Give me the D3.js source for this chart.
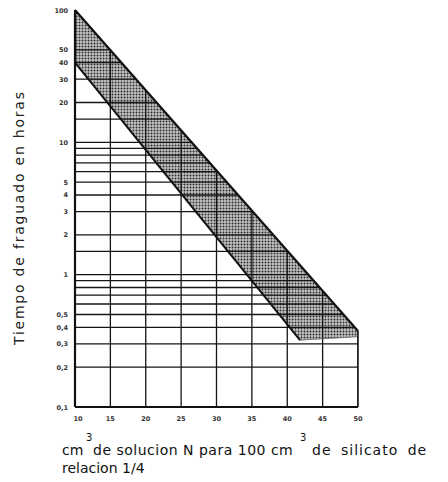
<!DOCTYPE html>
<html><head><meta charset="utf-8">
<script src="https://cdn.jsdelivr.net/npm/d3@7/dist/d3.min.js"></script>
<style>body{margin:0;background:#fff}svg{display:block}</style>
</head><body>
<script>
// ---- data ----
const xTicks = [10,15,20,25,30,35,40,45,50];
const yGrid = [0.1,0.2,0.3,0.4,0.5,0.6,0.7,0.8,0.9,1,1.5,2,3,4,5,6,7,8,9,10,15,20,30,40,50];
const yLabelVals = [100,50,40,30,20,10,5,4,3,2,1,0.5,0.4,0.3,0.2,0.1];
const yLabelText = ["100","50","40","30","20","10","5","4","3","2","1","0,5","0,4","0,3","0,2","0,1"];
const upperLine = [[10,100],[50,0.375]];
const lowerLine = [[10,40],[41.8,0.32]];
const bandBottom = [[41.8,0.32],[50,0.34]];
const xTitleParts = ["cm","3","de solucion N para 100 cm","3","de silicato de"];
const xTitleLine2 = "relacion 1/4";
const yTitle = "Tiempo de fraguado en horas";

const W=448,H=482;
const svg=d3.select("body").append("svg").attr("width",W).attr("height",H);
const x=d3.scaleLinear().domain([10,50]).range([75,358]);
const y=d3.scaleLog().domain([0.1,100]).range([407,10]);

// pattern for hatch
const defs=svg.append("defs");
const pat=defs.append("pattern").attr("id","dots").attr("patternUnits","userSpaceOnUse").attr("width",3).attr("height",3);
pat.append("rect").attr("width",3).attr("height",3).attr("fill","#c4c4c4");
pat.append("circle").attr("cx",1.5).attr("cy",1.5).attr("r",1).attr("fill","#2e2e2e");

// clip region below upper line
const clipPts=[upperLine[0],upperLine[1],[50,0.1],[10,0.1]];
defs.append("clipPath").attr("id","under").append("polygon")
  .attr("points",clipPts.map(d=>[x(d[0]),y(d[1])].join(",")).join(" "));

// hatched band
const band=[upperLine[0],upperLine[1],bandBottom[1],bandBottom[0],lowerLine[0]];
svg.append("polygon").attr("points",band.map(d=>[x(d[0]),y(d[1])].join(",")).join(" "))
  .attr("fill","url(#dots)");

const g=svg.append("g").attr("clip-path","url(#under)");
g.selectAll("line.h").data(yGrid).join("line").attr("class","h")
  .attr("x1",x(10)).attr("x2",x(50)).attr("y1",d=>y(d)).attr("y2",d=>y(d))
  .attr("stroke","#151515").attr("stroke-width",1.3);
g.selectAll("line.v").data(xTicks).join("line").attr("class","v")
  .attr("x1",d=>x(d)).attr("x2",d=>x(d)).attr("y1",y(0.1)).attr("y2",y(100))
  .attr("stroke","#151515").attr("stroke-width",1.3);

const line=d3.line().x(d=>x(d[0])).y(d=>y(d[1]));
svg.append("path").attr("d",line(upperLine)).attr("stroke","#111").attr("stroke-width",2.2).attr("fill","none");
svg.append("path").attr("d",line(lowerLine)).attr("stroke","#111").attr("stroke-width",2).attr("fill","none");
svg.append("path").attr("d",line(bandBottom)).attr("stroke","#666").attr("stroke-width",0.8).attr("fill","none");

// axes
svg.append("line").attr("x1",x(10)).attr("x2",x(10)).attr("y1",y(100)).attr("y2",y(0.1)).attr("stroke","#111").attr("stroke-width",2.2);
svg.append("line").attr("x1",x(10)).attr("x2",x(50)).attr("y1",y(0.1)).attr("y2",y(0.1)).attr("stroke","#111").attr("stroke-width",2.2);
svg.append("line").attr("x1",x(50)).attr("x2",x(50)).attr("y1",y(0.1)).attr("y2",y(upperLine[1][1])).attr("stroke","#111").attr("stroke-width",1.5);

// tick labels
svg.selectAll("text.yl").data(yLabelVals).join("text").attr("class","yl")
  .attr("x",68).attr("y",d=>y(d)+2.5).attr("text-anchor","end")
  .attr("font-family","DejaVu Sans").attr("font-size",6.5).attr("font-weight","bold").attr("fill","#333")
  .text((d,i)=>yLabelText[i]);
svg.selectAll("text.xl").data(xTicks).join("text").attr("class","xl")
  .attr("x",d=>x(d)+(d===10?3:0)).attr("y",421).attr("text-anchor","middle")
  .attr("font-family","DejaVu Sans").attr("font-size",6.5).attr("font-weight","bold").attr("fill","#333")
  .text(d=>d);

// x title
const tf="DejaVu Sans";
const xt=svg.append("text").attr("font-family",tf).attr("font-size",14).attr("fill","#111");
const parts=[
  {s:xTitleParts[0],x:62,y:455,size:14},
  {s:xTitleParts[1],x:86,y:441,size:10},
  {s:xTitleParts[2],x:93,y:455,size:14,ls:0.5},
  {s:xTitleParts[3],x:300,y:441,size:10},
  {s:xTitleParts[4],x:312,y:455,size:14,ls:1,ws:4}
];
parts.forEach(p=>{
  const ts=xt.append("tspan").attr("x",p.x).attr("y",p.y).attr("font-size",p.size).text(p.s);
  if(p.ls) ts.attr("letter-spacing",p.ls);
  if(p.ws) ts.attr("word-spacing",p.ws);
});
svg.append("text").attr("x",62).attr("y",473).attr("font-family",tf).attr("font-size",14).attr("fill","#111")
  .text(xTitleLine2);

svg.append("text").attr("transform","translate(24,345) rotate(-90)")
  .attr("font-family",tf).attr("font-size",14).attr("fill","#222")
  .attr("textLength",253).attr("lengthAdjust","spacing").text(yTitle);
</script>
</body></html>
